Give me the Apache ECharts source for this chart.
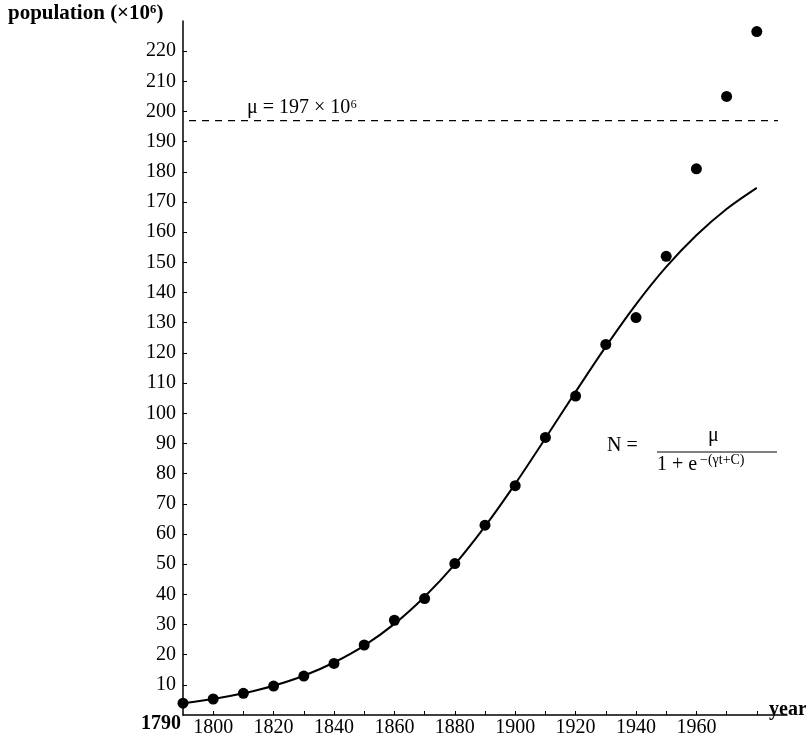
<!DOCTYPE html>
<html>
<head>
<meta charset="utf-8">
<script src="https://cdn.jsdelivr.net/npm/echarts@6/dist/echarts.min.js"></script>
<style>
  html, body { margin: 0; padding: 0; background: #fff; }
  #main { width: 806px; height: 738px; }
</style>
</head>
<body>
<div id="main"></div>
<script>
// census years and population (millions)
const years = [1790, 1800, 1810, 1820, 1830, 1840, 1850, 1860, 1870, 1880,
  1890, 1900, 1910, 1920, 1930, 1940, 1950, 1960, 1970, 1980]
const census = [3.9, 5.3, 7.2, 9.6, 12.9, 17.1, 23.2, 31.4, 38.6, 50.2,
  62.9, 76.0, 92.0, 105.7, 122.8, 131.7, 152.0, 181.0, 205.0, 226.5]
// logistic fit curve, as drawn
const fitPop = [3.9, 5.3, 7.2, 9.7, 13.0, 17.4, 23.0, 30.2, 39.2, 49.9,
  62.5, 76.6, 91.7, 107.1, 122.1, 136.1, 148.5, 159.0, 167.7, 174.7]
// limiting population mu and the extent of its dashed line
const mu = 197
const muYears = [1792, 1987]

const xTicks = [1800, 1810, 1820, 1830, 1840, 1850, 1860, 1870, 1880, 1890,
  1900, 1910, 1920, 1930, 1940, 1950, 1960, 1970, 1980]
const xLabels = [1800, 1820, 1840, 1860, 1880, 1900, 1920, 1940, 1960]
const yTicks = [10, 20, 30, 40, 50, 60, 70, 80, 90, 100, 110,
  120, 130, 140, 150, 160, 170, 180, 190, 200, 210, 220]

const serif = '"Liberation Serif", "DejaVu Serif", serif'
const fs = 20

const chart = echarts.init(document.getElementById('main'), null, { renderer: 'canvas' })

const option = {
  animation: false,
  backgroundColor: '#fff',
  grid: { left: 183, right: 19, top: 21, bottom: 21, containLabel: false },
  xAxis: {
    type: 'value',
    min: 1790,
    max: 1990,
    interval: 10,
    splitLine: { show: false },
    axisLine: { lineStyle: { color: '#000', width: 1.5 } },
    axisTick: { customValues: xTicks, inside: true, length: 4, lineStyle: { color: '#000', width: 1 } },
    axisLabel: {
      customValues: xLabels,
      formatter: v => String(v),
      color: '#000',
      fontFamily: serif,
      fontSize: fs,
      margin: 3,
    },
  },
  yAxis: {
    type: 'value',
    min: 0,
    max: 230,
    interval: 10,
    splitLine: { show: false },
    axisLine: { lineStyle: { color: '#000', width: 1.5 } },
    axisTick: { customValues: yTicks, inside: true, length: 4, lineStyle: { color: '#000', width: 1 } },
    axisLabel: {
      customValues: yTicks,
      formatter: v => String(v),
      color: '#000',
      fontFamily: serif,
      fontSize: fs,
      margin: 7,
    },
  },
  series: [
    {
      // dashed asymptote
      type: 'line',
      data: muYears.map(y => [y, mu]),
      symbol: 'none',
      lineStyle: { color: '#000', width: 1.2, type: [7, 6] },
      silent: true,
    },
    {
      type: 'line',
      data: years.map((y, i) => [y, fitPop[i]]),
      smooth: 0.3,
      symbol: 'none',
      lineStyle: { color: '#000', width: 2 },
    },
    {
      type: 'scatter',
      data: years.map((y, i) => [y, census[i]]),
      symbolSize: 11,
      itemStyle: { color: '#000', opacity: 1 },
    },
  ],
  graphic: [
    {
      type: 'text', left: 8, top: 3,
      style: { text: 'population (×10⁶)', fontFamily: serif, fontSize: 21, fontWeight: 'bold', fill: '#000' },
    },
    {
      type: 'text', left: 141, top: 714,
      style: { text: '1790', fontFamily: serif, fontSize: 20, fontWeight: 'bold', fill: '#000' },
    },
    {
      type: 'text', left: 769, top: 700,
      style: { text: 'year', fontFamily: serif, fontSize: 20, fontWeight: 'bold', fill: '#000' },
    },
    {
      type: 'text', left: 247, top: 98,
      style: { text: 'μ = 197 × 10⁶', fontFamily: serif, fontSize: fs, fill: '#000' },
    },
    // formula N = mu / (1 + e^-(gamma t + C))
    {
      type: 'text', left: 607, top: 436,
      style: { text: 'N =', fontFamily: serif, fontSize: fs, fill: '#000' },
    },
    {
      type: 'text', left: 708, top: 426,
      style: { text: 'μ', fontFamily: serif, fontSize: fs, fill: '#000' },
    },
    {
      type: 'line',
      shape: { x1: 657, y1: 452, x2: 777, y2: 452 },
      style: { stroke: '#000', lineWidth: 1 },
    },
    {
      type: 'text', left: 657, top: 455,
      style: { text: '1 + e', fontFamily: serif, fontSize: fs, fill: '#000' },
    },
    {
      type: 'text', left: 700, top: 453,
      style: { text: '−(γt+C)', fontFamily: serif, fontSize: 14, fill: '#000' },
    },
  ],
}

chart.setOption(option)
</script>
</body>
</html>
